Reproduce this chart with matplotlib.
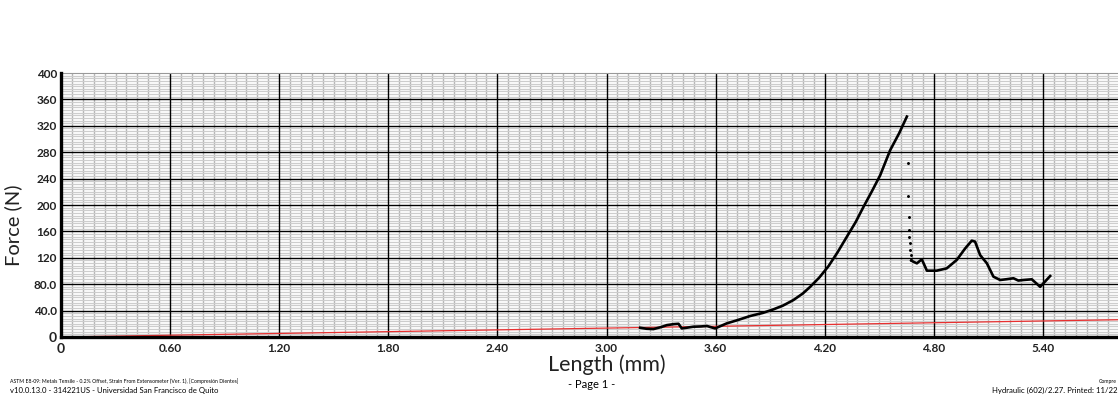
import matplotlib.pyplot as plt
import numpy as np
from matplotlib.ticker import MultipleLocator, FixedLocator

plt.rcParams['font.family'] = ['Lato', 'DejaVu Sans']

# main loading curve (Length mm, Force N)
rise_x = [3.185, 3.22, 3.258, 3.30, 3.332, 3.37, 3.396, 3.414, 3.44, 3.478, 3.52, 3.552,
          3.597, 3.662, 3.72, 3.79, 3.86, 3.918, 3.97, 4.028, 4.08, 4.12, 4.17, 4.22,
          4.27, 4.322, 4.37, 4.413, 4.46, 4.505, 4.56, 4.61, 4.652]
rise_f = [14, 12.5, 12, 15, 18, 19.5, 20, 13, 14, 15.6, 16, 16.7,
          13, 20.7, 25.5, 31.8, 36.5, 41.9, 47.5, 56, 66, 76, 90, 107,
          128, 152, 174, 197, 221, 245, 283, 309, 334]

# sparse points during the sudden drop
drop_x = [4.658, 4.66, 4.662, 4.664, 4.666, 4.668, 4.67, 4.672, 4.674]
drop_f = [263, 214, 182, 162, 152, 142, 132, 124, 117]

# curve after the drop
tail_x = [4.676, 4.688, 4.707, 4.734, 4.762, 4.816, 4.871, 4.926, 4.972, 5.009,
          5.027, 5.055, 5.092, 5.128, 5.165, 5.20, 5.238, 5.265, 5.293, 5.339, 5.385, 5.44]
tail_f = [116, 114, 111.6, 117.7, 100.5, 100.5, 104, 116.7, 134, 146,
          144.5, 124, 111.6, 91.4, 86.4, 87.5, 89, 85.5, 86.4, 87.4, 76, 92.4]

# 0.2% offset line
offset_x = [0, 6.0]
offset_f = [0, 27]

xticks = [0, 0.6, 1.2, 1.8, 2.4, 3.0, 3.6, 4.2, 4.8, 5.4]
xlabels = ['0', '0.60', '1.20', '1.80', '2.40', '3.00', '3.60', '4.20', '4.80', '5.40']
yticks = [0, 40, 80, 120, 160, 200, 240, 280, 320, 360, 400]
ylabels = ['0', '40.0', '80.0', '120', '160', '200', '240', '280', '320', '360', '400']

fig = plt.figure(figsize=(11.18, 4.16), dpi=100)
ax = fig.add_axes([61 / 1118, 79 / 416, 1091 / 1118, 264 / 416])

ax.set_xlim(0, 6.0)
ax.set_ylim(0, 400)

ax.xaxis.set_major_locator(FixedLocator(xticks))
ax.set_xticklabels(xlabels)
ax.yaxis.set_major_locator(FixedLocator(yticks))
ax.set_yticklabels(ylabels)
ax.xaxis.set_minor_locator(MultipleLocator(0.06))
ax.yaxis.set_minor_locator(MultipleLocator(4))

# fine graph-paper grid underneath, black major lines on top of it
ax.grid(which='minor', axis='y', color='#cdcdcd', linewidth=0.9, zorder=0.5)
ax.grid(which='minor', axis='x', color='#b4b4b4', linewidth=1.0, zorder=0.6)
for xv in xticks[1:]:
    ax.axvline(xv, color='black', linewidth=1.0, zorder=1)
for yv in yticks[1:-1]:
    ax.axhline(yv, color='black', linewidth=1.0, zorder=1)
ax.set_axisbelow(True)

ax.tick_params(which='both', length=0)
ax.tick_params(axis='x', labelsize=8.5, pad=4, colors='#222222')
ax.tick_params(axis='y', labelsize=8.5, pad=3, colors='#222222')
for lab in ax.get_xticklabels() + ax.get_yticklabels():
    lab.set_fontweight('bold')
ax.get_xticklabels()[0].set_fontsize(10)
ax.get_yticklabels()[0].set_fontsize(10)

for s in ['left', 'bottom']:
    ax.spines[s].set_linewidth(2.4)
    ax.spines[s].set_color('black')
    ax.spines[s].set_zorder(5)
ax.spines['top'].set_color('#999999')
ax.spines['top'].set_linewidth(0.8)
ax.spines['right'].set_visible(False)

ax.plot(offset_x, offset_f, color='#e83030', linewidth=0.9, zorder=3)
ax.plot(rise_x, rise_f, color='black', linewidth=1.9, zorder=4)
ax.plot(drop_x, drop_f, linestyle='none', marker='.', markersize=2.2, color='black', zorder=4)
ax.plot(tail_x, tail_f, color='black', linewidth=1.9, zorder=4)

ax.set_xlabel('Length (mm)', fontsize=15.5, labelpad=0, color='#222222')
ax.set_ylabel('Force (N)', fontsize=14.5, color='#222222')
ax.yaxis.set_label_coords(-0.036, 0.424)

fig.text(10 / 1118, 1 - 381 / 416, 'ASTM E8-09: Metals Tensile - 0.2% Offset, Strain From Extensometer (Ver. 1), [Compresión Dientes]',
         fontsize=3.7, va='center', ha='left')
fig.text(10 / 1118, 1 - 390 / 416, 'v10.0.13.0 - 314221US - Universidad San Francisco de Quito',
         fontsize=5.6, va='center', ha='left')
fig.text(592 / 1118, 1 - 384 / 416, '- Page 1 -', fontsize=8, va='center', ha='center')
fig.text(1117 / 1118, 1 - 381 / 416, 'Compre', fontsize=3.7, va='center', ha='right')
fig.text(1117 / 1118, 1 - 390 / 416, 'Hydraulic (602)/2.27. Printed: 11/22', fontsize=5.6, va='center', ha='right')

plt.savefig('out.png', dpi=100)
